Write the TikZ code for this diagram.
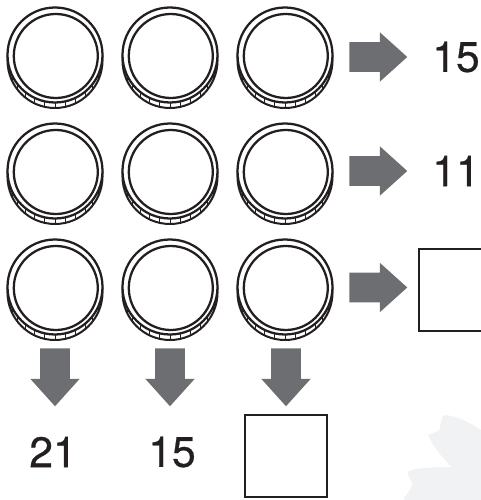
\documentclass[tikz,border=0pt]{standalone}
\usepackage{fontspec}
\setmainfont[FakeBold=0.6]{TeX Gyre Heros}
\usetikzlibrary{shapes.arrows}
\definecolor{inkline}{HTML}{231F20}
\definecolor{arrowgray}{HTML}{6D6E71}
\definecolor{leafgray}{HTML}{F1F2F4}
\tikzset{
    coin/.pic={
        \draw[inkline,line width=1.5pt,fill=white] (0,-5.5) circle (47.5);
        \draw[inkline,line width=0.5pt] foreach \a in {-155,-142,...,-25} {(\a:47.5) -- ++(0,-5.5)};
        \draw[inkline,line width=1.7pt,fill=white] (0,0) circle (47.5);
        \draw[inkline,line width=1.7pt] (0.8,-1) circle (42);
    },
    flow/.style={single arrow,fill=arrowgray,inner xsep=0pt,inner ysep=14.5*0.75pt,minimum height=58*0.75pt,
        single arrow head extend=10*0.75pt,single arrow head indent=0pt,single arrow tip angle=84,anchor=tail},
    answer/.style={draw=inkline,line width=1.5pt,minimum size=82*0.75pt,inner sep=0pt},
    total/.style={font=\fontsize{32}{32}\selectfont,text=inkline,inner sep=0pt}
}
\begin{document}
\begin{tikzpicture}[x=0.75pt,y=0.75pt]
    \clip (0,0) rectangle (481,500);
    \fill[leafgray] (404,0) -- (404,2) .. controls (408,8) and (413,12) .. (412,17)
        .. controls (410,22) and (407,25) .. (408,28) .. controls (412,32) and (435,33) .. (451,33)
        .. controls (445,40) and (436,50) .. (432,57) -- (428,65)
        .. controls (434,68) and (440,68) .. (440,72) .. controls (441,78) and (441,84) .. (445,85)
        .. controls (458,84) and (472,76) .. (481,70)
        -- (481,0) -- cycle;
    \foreach \col/\x in {1/55,2/170,3/285}
        \foreach \row/\y in {1/445,2/329,3/213}
            \pic (coin\row\col) at (\x,\y) {coin};
    \node[flow] (flowA) at (349,443) {};
    \node[flow] (flowB) at (349,329) {};
    \node[flow] (flowC) at (349,212.5) {};
    \node[flow,rotate=-90] (flowD) at (55,152) {};
    \node[flow,rotate=-90] (flowE) at (170,152) {};
    \node[flow,rotate=-90] (flowF) at (286,152) {};
    \node[total] (sumA) at (456,443) {15};
    \node[total] (sumB) at (456,329) {11};
    \node[total] (sumD) at (53,48) {21};
    \node[total] (sumE) at (172,48) {15};
    \node[answer] (boxC) at (460,210) {};
    \node[answer] (boxF) at (286,44) {};
\end{tikzpicture}
\end{document}
